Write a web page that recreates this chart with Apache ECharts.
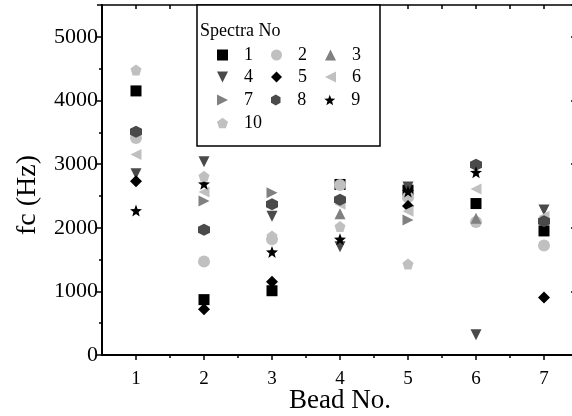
<!DOCTYPE html>
<html>
<head>
<meta charset="utf-8">
<script src="https://cdn.jsdelivr.net/npm/echarts@6/dist/echarts.min.js"></script>
<style>
  html, body { margin: 0; padding: 0; background: #fff; }
  #chart { width: 572px; height: 416px; }
</style>
</head>
<body>
<div id="chart"></div>
<script>
// x positions (bead number)
const beads = [1, 2, 3, 4, 5, 6, 7];
const xMajorTicks = [1, 2, 3, 4, 5, 6, 7];
const xMinorTicks = [1.5, 2.5, 3.5, 4.5, 5.5, 6.5];

// fc (Hz) per bead for each spectrum, '-' = not visible
const spec1 = [4150, 870, 1010, 2680, 2590, 2380, 1950];
const spec2 = [3410, 1470, 1820, 2670, 2480, 2090, 1720];
const spec3 = ['-', '-', '-', 2220, '-', 2150, '-'];
const spec4 = [2850, 3035, 2180, 1700, 2640, 320, 2280];
const spec5 = [2730, 720, 1150, '-', 2340, '-', 905];
const spec6 = [3150, 2560, '-', 2370, 2260, 2610, 2180];
const spec7 = ['-', 2420, 2550, '-', 2120, '-', '-'];
const spec8 = [3510, 1970, 2370, 2440, '-', 2990, 2100];
const spec9 = [2270, 2690, 1620, 1820, 2570, 2870, '-'];
const spec10 = [4480, 2810, 1870, 2020, 1430, '-', '-'];

const seriesNames = ['1', '2', '3', '4', '5', '6', '7', '8', '9', '10'];
const seriesValues = [spec1, spec2, spec3, spec4, spec5, spec6, spec7, spec8, spec9, spec10];
// 图例每行的条目
const legendRows = [['1', '2', '3'], ['4', '5', '6'], ['7', '8', '9'], ['10']];

// 多边形/星形符号路径
function polyPath(n, startAngle, inner) {
  const pts = [];
  const count = inner ? n * 2 : n;
  for (let i = 0; i < count; i++) {
    const r = inner && i % 2 === 1 ? inner : 1;
    const a = startAngle + (i * Math.PI * 2) / count;
    pts.push((Math.cos(a) * r).toFixed(3) + ' ' + (Math.sin(a) * r).toFixed(3));
  }
  return 'path://M' + pts.join(' L') + ' Z';
}
const starPath = polyPath(5, -Math.PI / 2, 0.42);
const pentagonPath = polyPath(5, -Math.PI / 2);
const hexagonPath = polyPath(6, -Math.PI / 2);
// 三角形直接用路径画，图例里也能保持方向
const triUp = 'path://M0 -1 L1 1 L-1 1 Z';
const triDown = 'path://M-1 -1 L1 -1 L0 1 Z';
const triLeft = 'path://M1 -1 L1 1 L-1 0 Z';
const triRight = 'path://M-1 -1 L-1 1 L1 0 Z';

const LIGHT = '#c0c0c0';
const MID = '#808080';
const DARK = '#4a4a4a';

const styles = [
  { symbol: 'rect', color: '#000', size: 11 },
  { symbol: 'circle', color: LIGHT, size: 12 },
  { symbol: triUp, color: MID, size: 11 },
  { symbol: triDown, color: DARK, size: 11 },
  { symbol: 'diamond', color: '#000', size: 12 },
  { symbol: triLeft, color: LIGHT, size: 11 },
  { symbol: triRight, color: MID, size: 11 },
  { symbol: hexagonPath, color: DARK, size: 12 },
  { symbol: starPath, color: '#000', size: 12 },
  { symbol: pentagonPath, color: LIGHT, size: 11 }
];

const FONT = '"Liberation Serif", "Times New Roman", serif';

const chart = echarts.init(document.getElementById('chart'), null, { renderer: 'canvas' });

const series = seriesNames.map((name, k) => ({
  name: name,
  type: 'scatter',
  xAxisIndex: 0,
  yAxisIndex: 0,
  symbol: styles[k].symbol,
  symbolSize: styles[k].size,
  itemStyle: { color: styles[k].color, opacity: 1 },
  emphasis: { disabled: true },
  z: 3,
  data: beads.map((b, i) => [b, seriesValues[k][i]])
}));

// 图例框每行中心 y
const rowCenters = [55, 77, 100, 123];
const legends = legendRows.map((row, r) => ({
  data: row,
  left: 217,
  top: rowCenters[r] - 9,
  orient: 'horizontal',
  itemWidth: 11,
  itemHeight: 11,
  itemGap: 18,
  padding: 0,
  selectedMode: false,
  z: 10,
  textStyle: {
    fontFamily: FONT,
    fontSize: 18,
    color: '#000',
    width: 14,
    padding: [0, 0, 0, 11]
  }
}));

const option = {
  backgroundColor: '#fff',
  animation: false,
  title: {
    text: 'Spectra No',
    left: 200,
    top: 22,
    padding: 0,
    z: 10,
    textStyle: { fontFamily: FONT, fontSize: 18, fontWeight: 'normal', color: '#000' }
  },
  legend: legends,
  graphic: [
    {
      type: 'rect',
      z: 8,
      shape: { x: 197, y: 5, width: 183, height: 141 },
      style: { fill: '#fff', stroke: '#000', lineWidth: 1.5 }
    }
  ],
  grid: { left: 102, right: -6, top: 5, bottom: 61, containLabel: false, outerBoundsMode: 'none' },
  xAxis: [
    {
      type: 'value',
      position: 'bottom',
      min: 0.5,
      max: 7.5,
      name: 'Bead No.',
      nameLocation: 'middle',
      nameGap: 32,
      nameMoveOverlap: false,
      nameTextStyle: { fontFamily: FONT, fontSize: 27, color: '#000' },
      axisLine: { lineStyle: { color: '#000', width: 2 } },
      axisTick: { inside: false, length: 5, customValues: xMajorTicks, lineStyle: { color: '#000', width: 1.5 } },
      axisLabel: { customValues: xMajorTicks, fontFamily: FONT, fontSize: 19, color: '#000', margin: 15 },
      splitLine: { show: false }
    },
    {
      type: 'value',
      position: 'bottom',
      min: 0.5,
      max: 7.5,
      axisLine: { show: false },
      axisTick: { inside: false, length: 3, customValues: xMinorTicks, lineStyle: { color: '#000', width: 1.5 } },
      axisLabel: { show: false },
      splitLine: { show: false }
    },
    {
      type: 'value',
      position: 'top',
      min: 0.5,
      max: 7.5,
      interval: 0.5,
      axisLine: { lineStyle: { color: '#000', width: 1.5 } },
      axisTick: { inside: true, length: 4, lineStyle: { color: '#000', width: 1.5 } },
      axisLabel: { show: false },
      splitLine: { show: false }
    }
  ],
  yAxis: [
    {
      type: 'value',
      position: 'left',
      min: 0,
      max: 5500,
      interval: 1000,
      name: 'fc (Hz)',
      nameLocation: 'middle',
      nameGap: 60,
      nameMoveOverlap: false,
      nameTextStyle: { fontFamily: FONT, fontSize: 28, color: '#000', padding: [0, 30, 0, 0] },
      axisLine: { lineStyle: { color: '#000', width: 2 } },
      axisTick: { inside: false, length: 5, lineStyle: { color: '#000', width: 1.5 } },
      minorTick: { show: true, splitNumber: 2, length: 3, lineStyle: { color: '#000', width: 1.5 } },
      axisLabel: {
        fontFamily: FONT,
        fontSize: 22,
        color: '#000',
        margin: 4,
        showMaxLabel: false,
        formatter: (v) => String(v)
      },
      splitLine: { show: false }
    },
    {
      type: 'value',
      position: 'right',
      min: 0,
      max: 5500,
      interval: 1000,
      axisLine: { lineStyle: { color: '#000', width: 2 } },
      axisTick: { inside: true, length: 7, lineStyle: { color: '#000', width: 1.5 } },
      axisLabel: { show: false },
      splitLine: { show: false }
    }
  ],
  series: series
};

chart.setOption(option);
</script>
</body>
</html>
